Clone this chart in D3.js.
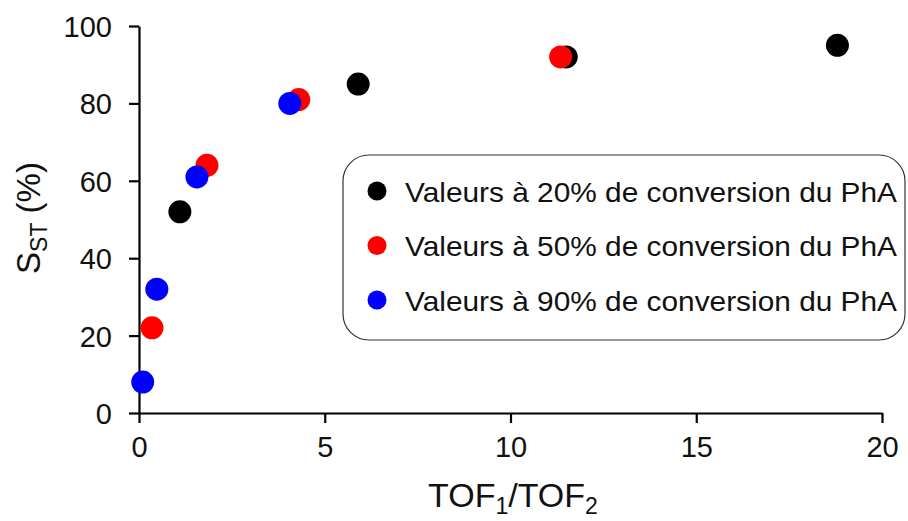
<!DOCTYPE html>
<html><head><meta charset="utf-8">
<script src="https://cdn.jsdelivr.net/npm/d3@7"></script>
<style>body{margin:0;background:#fff}svg{display:block}text{font-family:"Liberation Sans",Arial,sans-serif;fill:#111}</style>
</head><body><svg id="c" width="908" height="521"></svg>
<script>
const seriesNames = ["Valeurs à 20% de conversion du PhA","Valeurs à 50% de conversion du PhA","Valeurs à 90% de conversion du PhA"];
const seriesColors = ["#000000","#ff0000","#0000ff"];
const x20 = [1.1, 5.9, 11.5, 18.8];
const y20 = [52, 85, 92, 95];
const x50 = [0.35, 1.83, 4.3, 11.35];
const y50 = [22, 64, 81, 92];
const x90 = [0.1, 0.48, 1.56, 4.06];
const y90 = [8, 32, 61, 80];
const xTicks = [0,5,10,15,20];
const yTicks = [0,20,40,60,80,100];

const svg = d3.select("#c");
const x = d3.scaleLinear().domain([0,20]).range([139,882]);
const y = d3.scaleLinear().domain([0,100]).range([413,26]);

const gx = svg.append("g").attr("transform","translate(0,413)")
  .call(d3.axisBottom(x).tickValues(xTicks).tickSize(10).tickSizeOuter(0).tickPadding(12));
const gy = svg.append("g").attr("transform","translate(139,0)")
  .call(d3.axisLeft(y).tickValues(yTicks).tickSize(10).tickSizeOuter(0).tickPadding(17));
[gx,gy].forEach(g=>{
  g.attr("font-size",null).attr("font-family",null);
  g.selectAll("path,line").attr("stroke","#000").attr("stroke-width",2.2);
  g.selectAll("text").style("font-size","29px").attr("fill","#111");
});
gy.selectAll("text").attr("dy","0.36em");
gx.selectAll("text").attr("dy","0.75em");

const series = [[x20,y20],[x50,y50],[x90,y90]];
series.forEach((s,i)=>{
  svg.append("g").selectAll("circle").data(s[0].map((v,j)=>[v,s[1][j]])).join("circle")
    .attr("cx",d=>x(d[0])).attr("cy",d=>y(d[1])).attr("r",11.5).attr("fill",seriesColors[i]);
});

// legend
const lg = svg.append("g");
lg.append("rect").attr("x",343).attr("y",155).attr("width",562).attr("height",185)
  .attr("rx",26).attr("fill","#fff").attr("stroke","#333").attr("stroke-width",1.2);
seriesNames.forEach((n,i)=>{
  const cy = 191 + i*54.5;
  lg.append("circle").attr("cx",377).attr("cy",cy).attr("r",9.5).attr("fill",seriesColors[i]);
  lg.append("text").attr("x",405).attr("y",cy+10.5).style("font-size","28px")
    .attr("textLength",492).attr("lengthAdjust","spacingAndGlyphs").text(n);
});

// axis titles
const xt = svg.append("text").attr("x",513).attr("y",507).attr("text-anchor","middle").style("font-size","34px");
xt.append("tspan").text("TOF");
xt.append("tspan").attr("dy",7).style("font-size","23px").text("1");
xt.append("tspan").attr("dy",-7).text("/TOF");
xt.append("tspan").attr("dy",7).style("font-size","23px").text("2");

const yt = svg.append("text").attr("transform","translate(40,218) rotate(-90)").attr("text-anchor","middle").style("font-size","33px");
yt.append("tspan").text("S");
yt.append("tspan").attr("dy",7).style("font-size","23px").text("ST");
yt.append("tspan").attr("dy",-7).text(" (%)");
</script></body></html>
